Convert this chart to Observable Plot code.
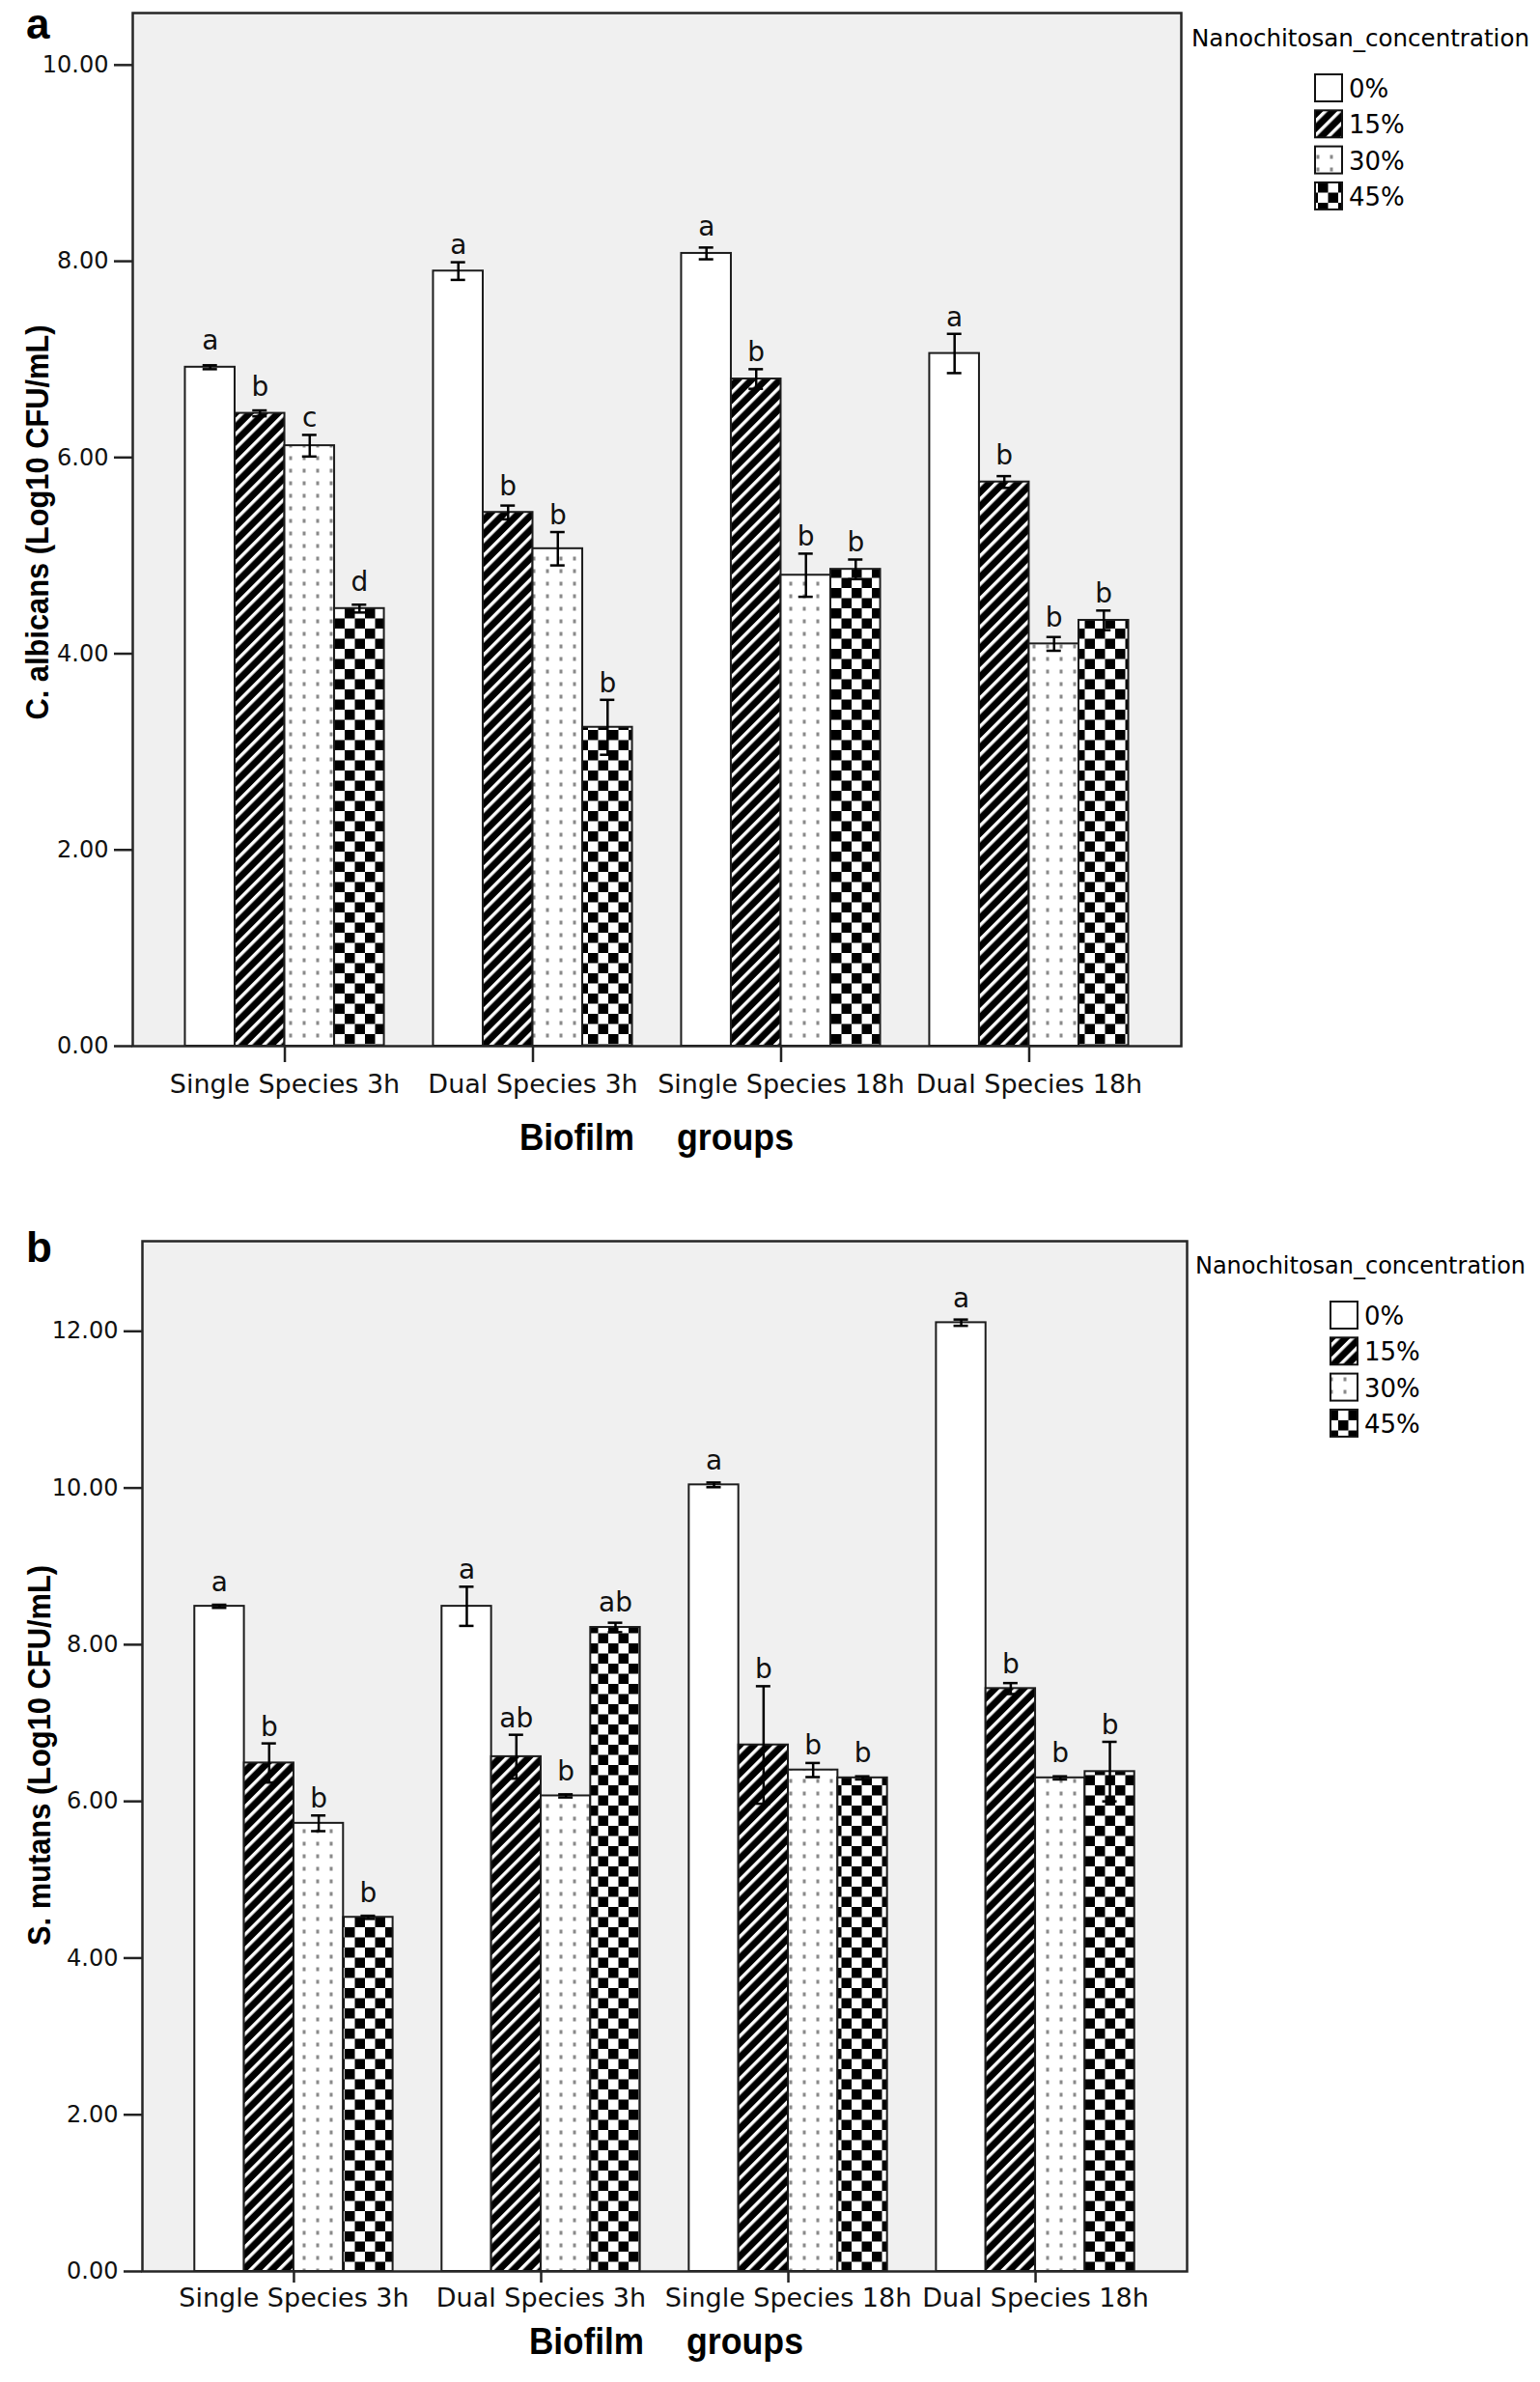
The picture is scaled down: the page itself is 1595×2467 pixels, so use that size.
<!DOCTYPE html>
<html>
<head>
<meta charset="utf-8">
<script src="https://cdn.jsdelivr.net/npm/d3@7"></script>
<script src="https://cdn.jsdelivr.net/npm/@observablehq/plot@0.6"></script>
<style>
  html, body { margin: 0; padding: 0; background: #fff; }
  #root { position: relative; width: 1595px; height: 2467px; overflow: hidden; }
  .panel { position: absolute; left: 0; }
  .panel svg { display: block; }
</style>
</head>
<body>
<svg width="0" height="0" style="position:absolute">
  <defs>
    <pattern id="p15" patternUnits="userSpaceOnUse" width="10.4" height="10.4" patternTransform="rotate(45)">
      <rect width="10.4" height="10.4" fill="#000"></rect>
      <rect x="0" y="0" width="3.4" height="10.4" fill="#fff"></rect>
    </pattern>
    <pattern id="p30" patternUnits="userSpaceOnUse" width="14" height="13">
      <rect width="14" height="13" fill="#fff"></rect>
      <rect x="5.5" y="4.5" width="3" height="4" fill="#8a8a8a"></rect>
    </pattern>
    <pattern id="p45" patternUnits="userSpaceOnUse" width="21" height="21">
      <rect width="21" height="21" fill="#fff"></rect>
      <rect x="0" y="0" width="10.5" height="10.5" fill="#000"></rect>
      <rect x="10.5" y="10.5" width="10.5" height="10.5" fill="#000"></rect>
    </pattern>
  </defs>
</svg>
<div id="root">
  <div id="pa" class="panel" style="top:0px"></div>
  <div id="pb" class="panel" style="top:1240px"></div>
</div>
<script>
// ---------------- data ----------------
const groups = ["Single Species 3h", "Dual Species 3h", "Single Species 18h", "Dual Species 18h"];
const concentrations = ["0%", "15%", "30%", "45%"];
const legendTitle = "Nanochitosan_concentration";

// Panel a: C. albicans (Log10 CFU/mL); one array per concentration, ordered by group
const albicans0  = [6.92, 7.90, 8.08, 7.06];
const albicans15 = [6.45, 5.44, 6.80, 5.75];
const albicans30 = [6.12, 5.07, 4.80, 4.10];
const albicans45 = [4.46, 3.25, 4.86, 4.34];
const albicansErr0  = [0.02, 0.09, 0.06, 0.20];
const albicansErr15 = [0.03, 0.07, 0.10, 0.06];
const albicansErr30 = [0.11, 0.17, 0.22, 0.07];
const albicansErr45 = [0.04, 0.28, 0.10, 0.10];
const albicansLetters0  = ["a", "a", "a", "a"];
const albicansLetters15 = ["b", "b", "b", "b"];
const albicansLetters30 = ["c", "b", "b", "b"];
const albicansLetters45 = ["d", "b", "b", "b"];

// Panel b: S. mutans (Log10 CFU/mL)
const mutans0  = [8.49, 8.49, 10.04, 12.11];
const mutans15 = [6.49, 6.57, 6.72, 7.44];
const mutans30 = [5.72, 6.07, 6.40, 6.30];
const mutans45 = [4.52, 8.22, 6.30, 6.38];
const mutansErr0  = [0.02, 0.25, 0.03, 0.04];
const mutansErr15 = [0.25, 0.28, 0.75, 0.07];
const mutansErr30 = [0.10, 0.02, 0.09, 0.02];
const mutansErr45 = [0.02, 0.06, 0.02, 0.38];
const mutansLetters0  = ["a", "a", "a", "a"];
const mutansLetters15 = ["b", "ab", "b", "b"];
const mutansLetters30 = ["b", "b", "b", "b"];
const mutansLetters45 = ["b", "ab", "b", "b"];

const yTicksA = [0, 2, 4, 6, 8, 10];
const yTicksB = [0, 2, 4, 6, 8, 10, 12];

// ---------------- styling ----------------
const fills = ["#ffffff", "url(#p15)", "url(#p30)", "url(#p45)"];
const W = 1595;
const padInner = 0.198, padOuter = 0.212;
const boldNarrow = "'Liberation Sans Narrow', 'Liberation Sans', Arial, sans-serif";
const regular = "'DejaVu Sans', Verdana, sans-serif";

function buildRows(means, errs, letters) {
  const rows = [];
  concentrations.forEach((c, k) => {
    groups.forEach((g, i) => {
      rows.push({group: g, conc: c, k, mean: means[k][i], err: errs[k][i], letter: letters[k][i]});
    });
  });
  return rows;
}

function drawPanel(cfg) {
  const rows = buildRows(cfg.means, cfg.errs, cfg.letters);
  const plotW = W - cfg.mL - cfg.mR;
  const step = plotW / (groups.length - padInner + 2 * padOuter);
  const bw = step * (1 - padInner);
  const sub = bw / concentrations.length;
  const capHalf = 7.5;

  const marks = [Plot.frame({fill: "#f0f0f0", stroke: null})];
  concentrations.forEach((c, k) => {
    const d = rows.filter(r => r.k === k);
    marks.push(Plot.barY(d, {
      x: "group", y: "mean", fill: fills[k], stroke: "#1c1c1c", strokeWidth: 2,
      insetLeft: k * sub, insetRight: (concentrations.length - 1 - k) * sub
    }));
  });
  concentrations.forEach((c, k) => {
    const d = rows.filter(r => r.k === k);
    const center = (k + 0.5) * sub;
    const off = center - bw / 2;
    marks.push(Plot.ruleX(d, {x: "group", y1: r => r.mean - r.err, y2: r => r.mean + r.err, dx: off, stroke: "#000", strokeWidth: 2.5}));
    marks.push(Plot.tickY(d, {x: "group", y: r => r.mean + r.err, insetLeft: center - capHalf, insetRight: bw - center - capHalf, stroke: "#000", strokeWidth: 2.5}));
    marks.push(Plot.tickY(d, {x: "group", y: r => r.mean - r.err, insetLeft: center - capHalf, insetRight: bw - center - capHalf, stroke: "#000", strokeWidth: 2.5}));
    marks.push(Plot.text(d, {x: "group", y: r => r.mean + Math.max(r.err, 0.1), text: "letter", dx: off, dy: -8, lineAnchor: "bottom", fontSize: 28, fill: "#111"}));
  });
  marks.push(Plot.axisY({ticks: cfg.yTicks, tickFormat: d => d.toFixed(2), tickSize: 19, tickPadding: 6, fontSize: 24, stroke: "#222", strokeWidth: 2.5, label: null}));
  marks.push(Plot.axisX({tickSize: cfg.xTickSize, tickPadding: cfg.xTickPad, fontSize: 27, stroke: "#222", strokeWidth: 2.5, label: null}));
  marks.push(Plot.frame({stroke: "#262626", strokeWidth: 2.5}));

  const svg = Plot.plot({
    width: W, height: cfg.height,
    marginLeft: cfg.mL, marginRight: cfg.mR, marginTop: cfg.mT, marginBottom: cfg.mB,
    style: {fontFamily: regular, color: "#111", background: "#fff", overflow: "visible"},
    x: {type: "band", domain: groups, paddingInner: padInner, paddingOuter: padOuter, round: false},
    y: {domain: [0, cfg.yMax], nice: false, round: false},
    marks
  });

  const s = d3.select(svg);
  // panel letter
  s.append("text").attr("x", 27).attr("y", cfg.letterY).attr("text-anchor", "start")
    .attr("font-family", "'Liberation Sans', Arial, sans-serif")
    .attr("font-weight", "bold").attr("font-size", 44).attr("fill", "#000").text(cfg.panelLetter);
  // y title
  s.append("text").attr("transform", `translate(${cfg.yTitleX},${cfg.yTitleY}) rotate(-90)`)
    .attr("text-anchor", "middle").attr("dy", "0.36em")
    .attr("font-family", boldNarrow).attr("font-weight", "bold").attr("font-size", 34).attr("fill", "#000")
    .attr("textLength", cfg.yTitleLen).attr("lengthAdjust", "spacingAndGlyphs")
    .text(cfg.yTitle);
  // x title (two words, wide gap as in the original)
  cfg.xTitleWords.forEach((w, i) => {
    s.append("text").attr("x", cfg.xTitleX[i]).attr("y", cfg.xTitleBase).attr("text-anchor", "start")
      .attr("font-family", boldNarrow).attr("font-weight", "bold").attr("font-size", 38).attr("fill", "#000")
      .attr("textLength", cfg.xTitleLen[i]).attr("lengthAdjust", "spacingAndGlyphs")
      .text(w);
  });
  // legend
  const lg = s.append("g").attr("text-anchor", "start");
  lg.append("text").attr("x", cfg.legX).attr("y", cfg.legTitleBase).attr("font-family", regular)
    .attr("font-size", 24).attr("fill", "#000")
    .attr("textLength", cfg.legTitleLen).attr("lengthAdjust", "spacingAndGlyphs").text(legendTitle);
  concentrations.forEach((c, k) => {
    const y0 = cfg.legBoxY + k * cfg.legStep;
    lg.append("rect").attr("x", cfg.legBoxX).attr("y", y0).attr("width", 28).attr("height", 28)
      .attr("fill", fills[k]).attr("stroke", "#111").attr("stroke-width", 2);
    lg.append("text").attr("x", cfg.legBoxX + 35).attr("y", y0 + 24).attr("font-family", regular)
      .attr("font-size", 26).attr("fill", "#000").text(c);
  });
  return svg;
}

document.getElementById("pa").appendChild(drawPanel({
  means: [albicans0, albicans15, albicans30, albicans45],
  errs: [albicansErr0, albicansErr15, albicansErr30, albicansErr45],
  letters: [albicansLetters0, albicansLetters15, albicansLetters30, albicansLetters45],
  yTicks: yTicksA, yMax: 10.53,
  height: 1240, mL: 137, mR: 372, mT: 13, mB: 157,
  xTickSize: 17, xTickPad: 12,
  panelLetter: "a", letterY: 40,
  yTitle: "C. albicans (Log10 CFU/mL)", yTitleX: 38, yTitleY: 541, yTitleLen: 409,
  xTitleWords: ["Biofilm", "groups"], xTitleX: [538, 701], xTitleLen: [119, 121], xTitleBase: 1191,
  legX: 1234, legTitleBase: 48, legTitleLen: 350, legBoxX: 1362, legBoxY: 77, legStep: 37.3
}));

document.getElementById("pb").appendChild(drawPanel({
  means: [mutans0, mutans15, mutans30, mutans45],
  errs: [mutansErr0, mutansErr15, mutansErr30, mutansErr45],
  letters: [mutansLetters0, mutansLetters15, mutansLetters30, mutansLetters45],
  yTicks: yTicksB, yMax: 13.15,
  height: 1227, mL: 147, mR: 366, mT: 45, mB: 115,
  xTickSize: 12, xTickPad: 5,
  panelLetter: "b", letterY: 67,
  yTitle: "S. mutans (Log10 CFU/mL)", yTitleX: 40, yTitleY: 578, yTitleLen: 394,
  xTitleWords: ["Biofilm", "groups"], xTitleX: [548, 711], xTitleLen: [119, 121], xTitleBase: 1198,
  legX: 1238, legTitleBase: 79, legTitleLen: 342, legBoxX: 1378, legBoxY: 108, legStep: 37.3
}));
</script>
</body>
</html>
